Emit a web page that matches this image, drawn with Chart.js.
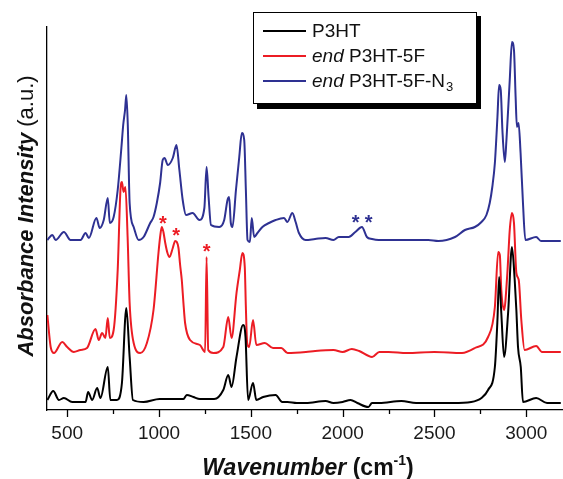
<!DOCTYPE html>
<html lang="en">
<head>
  <meta charset="UTF-8">
  <title>FTIR spectra</title>
  <style>
    body{margin:0;background:#fff;}
    .wrap{width:563px;height:479px;}
  </style>
</head>
<body>
  <div class="wrap">
    <canvas id="ftir" width="563" height="479"></canvas>
  </div>

  <script src="https://cdn.jsdelivr.net/npm/chart.js"></script>
  <script>
    // wavenumber (cm-1) / absorbance (a.u.)
    const p3htWn  = [392,424,455,482,527,600,614,636,663,681,721,735,771,798,822,840,858,916,1003,1133,1151,1187,1223,1300,1350,1377,1395,1422,1458,1471,1485,1512,1530,1567,1635,1671,1700,1750,1800,1907,1950,2000,2043,2080,2140,2160,2200,2320,2400,2500,2600,2700,2756,2792,2829,2843,2852,2864,2879,2901,2922,2937,2946,2955,2970,2982,3054,3113,3188];
    const p3htAbs = [10,19,10,12,8,8,18,10,22,12,43,10,10,27,102,53,10,8,11,11,15,13,11,11,20,35,23,53,85,73,10,27,10,13,15,8,8,7,7,9,7,8,10,7,3,7,7,9,7,7,7,8,12,20,43,90,133,97,53,97,163,130,100,63,43,8,12,7,7];

    const p5fWn  = [392,410,428,473,500,536,572,608,654,672,690,708,721,732,753,775,790,798,807,817,829,840,862,898,934,970,997,1006,1015,1024,1034,1046,1057,1075,1088,1097,1106,1115,1124,1133,1142,1169,1223,1251,1259,1268,1296,1350,1377,1395,1422,1440,1454,1467,1473,1480,1491,1512,1530,1576,1621,1666,1700,1800,1850,1950,2000,2050,2090,2160,2200,2250,2350,2500,2650,2720,2792,2829,2847,2856,2864,2879,2897,2910,2922,2933,2946,2959,2973,2991,3054,3086,3188];
    const p5fAbs = [95,63,57,68,63,58,60,62,81,70,77,72,92,72,80,140,220,228,218,223,173,107,67,57,67,100,157,173,183,178,167,157,153,162,169,168,162,145,130,107,87,70,65,58,153,60,57,63,93,72,117,140,157,143,103,67,63,90,65,67,62,62,57,58,59,60,58,61,59,53,58,58,57,58,57,62,73,103,158,155,120,100,137,180,197,187,137,130,90,60,64,58,58];

    const pN3Wn  = [392,419,437,482,518,573,600,618,659,677,699,721,732,753,775,795,805,815,822,830,840,862,889,916,952,970,988,1006,1020,1030,1048,1075,1095,1111,1129,1147,1183,1220,1247,1259,1270,1283,1328,1355,1373,1382,1391,1400,1419,1437,1451,1464,1473,1482,1495,1505,1518,1536,1563,1599,1635,1681,1699,1726,1744,1762,1798,1850,1907,1950,1979,2033,2069,2105,2132,2160,2196,2300,2467,2521,2612,2666,2720,2756,2783,2801,2815,2829,2843,2852,2861,2870,2883,2892,2910,2922,2933,2942,2949,2958,2969,2982,2995,3054,3080,3188];
    const pN3Abs = [170,175,170,178,170,170,177,172,192,182,190,212,187,193,220,262,285,300,315,285,207,183,170,173,187,193,207,227,250,252,245,252,265,240,210,195,197,190,202,243,213,185,183,190,210,213,187,183,220,253,277,270,220,170,168,192,173,177,183,187,190,192,188,197,188,177,170,171,172,170,173,173,178,183,173,171,170,170,170,169,173,180,183,188,195,207,223,247,293,325,320,280,248,270,330,368,360,313,283,287,257,207,170,173,169,169];

    // asterisk marks (centre of glyph)
    const redStarWn  = [1021,1093,1259];
    const redStarAbs = [191,179,163];
    const blueStarWn  = [2071,2142];
    const blueStarAbs = [192,192];

    const xTicks = [500,750,1000,1250,1500,1750,2000,2250,2500,2750,3000];

    const FONT = '"Liberation Sans", Arial, sans-serif';
    const BLACK = '#000000', RED = '#ec1c24', BLUE = '#2e3192';

    function pairs(xs, ys){
      return xs.map((x, i) => ({x: x, y: ys[i]}));
    }

    const decor = {
      id: 'decor',
      afterDraw(chart){
        const ctx = chart.ctx;
        const xs = chart.scales.x, ys = chart.scales.y;
        const bottom = chart.chartArea.bottom;
        ctx.save();

        // tick marks, long on labelled ticks
        ctx.strokeStyle = '#000';
        ctx.lineWidth = 1.3;
        xTicks.forEach(v => {
          const px = Math.round(xs.getPixelForValue(v)) + 0.5;
          const len = v % 500 === 0 ? 7 : 4;
          ctx.beginPath();
          ctx.moveTo(px, bottom);
          ctx.lineTo(px, bottom + len);
          ctx.stroke();
        });

        // asterisks
        ctx.font = 'bold 20px ' + FONT;
        ctx.textAlign = 'center';
        ctx.textBaseline = 'alphabetic';
        ctx.fillStyle = RED;
        redStarWn.forEach((w, i) => {
          ctx.fillText('*', xs.getPixelForValue(w), ys.getPixelForValue(redStarAbs[i]) + 11);
        });
        ctx.fillStyle = BLUE;
        blueStarWn.forEach((w, i) => {
          ctx.fillText('*', xs.getPixelForValue(w), ys.getPixelForValue(blueStarAbs[i]) + 11);
        });

        // x title
        ctx.fillStyle = '#111';
        ctx.textAlign = 'left';
        const f1 = 'italic bold 23px ' + FONT, f2 = 'bold 23px ' + FONT, f3 = 'bold 14px ' + FONT;
        ctx.font = f1; const w1 = ctx.measureText('Wavenumber').width;
        ctx.font = f2; const w2 = ctx.measureText(' (cm').width;
        ctx.font = f3; const w3 = ctx.measureText('-1').width;
        ctx.font = f2; const w4 = ctx.measureText(')').width;
        let tx = 308 - (w1 + w2 + w3 + w4) / 2;
        const tb = 475;
        ctx.font = f1; ctx.fillText('Wavenumber', tx, tb); tx += w1;
        ctx.font = f2; ctx.fillText(' (cm', tx, tb); tx += w2;
        ctx.font = f3; ctx.fillText('-1', tx, tb - 10); tx += w3;
        ctx.font = f2; ctx.fillText(')', tx, tb);

        // y title
        ctx.save();
        ctx.translate(33, 216);
        ctx.rotate(-Math.PI / 2);
        const g1 = 'italic bold 22px ' + FONT, g2 = '22px ' + FONT;
        ctx.font = g1; const v1 = ctx.measureText('Absorbance Intensity').width;
        ctx.font = g2; const v2 = ctx.measureText(' (a.u.)').width;
        let ty = -(v1 + v2) / 2;
        ctx.font = g1; ctx.fillText('Absorbance Intensity', ty, 0); ty += v1;
        ctx.font = g2; ctx.fillText(' (a.u.)', ty, 0);
        ctx.restore();

        // legend box with shadow
        ctx.fillStyle = '#000';
        ctx.fillRect(257, 16, 224, 93);
        ctx.fillStyle = '#fff';
        ctx.fillRect(253, 12, 224, 92);
        ctx.strokeStyle = '#000';
        ctx.lineWidth = 1;
        ctx.strokeRect(253.5, 12.5, 223, 91);

        const rows = [
          {c: BLACK, y: 31, parts: [['', 'P3HT']]},
          {c: RED,   y: 56, parts: [['italic ', 'end'], ['', ' P3HT-5F']]},
          {c: BLUE,  y: 81, parts: [['italic ', 'end'], ['', ' P3HT-5F-N'], ['sub', '3']]}
        ];
        rows.forEach(r => {
          ctx.strokeStyle = r.c;
          ctx.lineWidth = 2;
          ctx.beginPath();
          ctx.moveTo(263, r.y);
          ctx.lineTo(306, r.y);
          ctx.stroke();
          ctx.fillStyle = '#111';
          let lx = 312;
          r.parts.forEach(p => {
            if (p[0] === 'sub') {
              ctx.font = '13px ' + FONT;
              ctx.fillText(p[1], lx + 1, r.y + 10);
              lx += ctx.measureText(p[1]).width;
            } else {
              ctx.font = p[0] + '19px ' + FONT;
              ctx.fillText(p[1], lx, r.y + 6);
              lx += ctx.measureText(p[1]).width;
            }
          });
        });

        ctx.restore();
      }
    };

    const lineStyle = {borderWidth: 2, pointRadius: 0, cubicInterpolationMode: 'monotone'};

    new Chart(document.getElementById('ftir'), {
      type: 'line',
      data: {
        datasets: [
          Object.assign({label: 'P3HT', data: pairs(p3htWn, p3htAbs), borderColor: BLACK}, lineStyle),
          Object.assign({label: 'end P3HT-5F', data: pairs(p5fWn, p5fAbs), borderColor: RED}, lineStyle),
          Object.assign({label: 'end P3HT-5F-N3', data: pairs(pN3Wn, pN3Abs), borderColor: BLUE}, lineStyle)
        ]
      },
      options: {
        responsive: false,
        animation: false,
        devicePixelRatio: 1,
        layout: {padding: {top: 27, right: 0, left: 0, bottom: 0}},
        plugins: {legend: {display: false}, tooltip: {enabled: false}},
        scales: {
          x: {
            type: 'linear',
            min: 390,
            max: 3200,
            afterBuildTicks: s => { s.ticks = xTicks.map(v => ({value: v})); },
            afterFit: s => { s.height = 69; },
            ticks: {
              autoSkip: false,
              maxRotation: 0,
              padding: 12,
              color: '#1a1a1a',
              font: {family: FONT, size: 19},
              callback: v => (v % 500 === 0 ? String(v) : '')
            },
            grid: {display: false, drawTicks: false},
            border: {display: true, color: '#000', width: 1.3}
          },
          y: {
            min: 0,
            max: 383,
            afterFit: s => { s.width = 47; },
            ticks: {display: false},
            grid: {display: false, drawTicks: false},
            border: {display: true, color: '#000', width: 1.3}
          }
        }
      },
      plugins: [decor]
    });
  </script>
</body>
</html>
